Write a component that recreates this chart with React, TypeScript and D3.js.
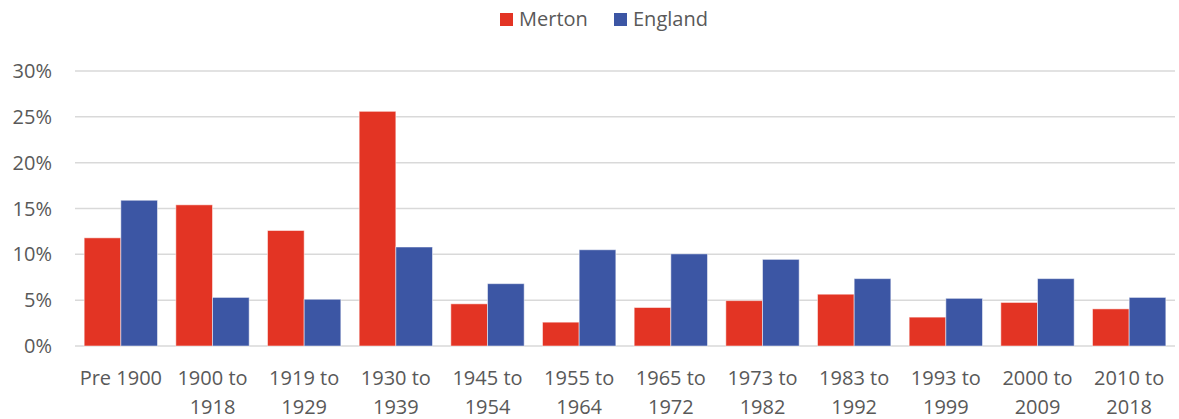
import React from "react";
import * as d3 from "d3";

const categories: string[][] = [
  ["Pre 1900"], ["1900 to", "1918"], ["1919 to", "1929"], ["1930 to", "1939"],
  ["1945 to", "1954"], ["1955 to", "1964"], ["1965 to", "1972"], ["1973 to", "1982"],
  ["1983 to", "1992"], ["1993 to", "1999"], ["2000 to", "2009"], ["2010 to", "2018"],
];
const merton = [11.8, 15.4, 12.6, 25.6, 4.6, 2.6, 4.2, 4.95, 5.65, 3.15, 4.75, 4.05];
const england = [15.9, 5.3, 5.1, 10.8, 6.8, 10.5, 10.05, 9.45, 7.35, 5.2, 7.35, 5.3];
const yTicks = [0, 5, 10, 15, 20, 25, 30];
const seriesNames = ["Merton", "England"];
const colors = ["#E33424", "#3C56A4"];

export default function App() {
  const W = 1179, H = 419;
  const left = 75, right = 1175, top = 71, bottom = 346;
  const x = d3.scaleBand<number>().domain(categories.map((_, i) => i)).range([left, right]).paddingInner(0.2).paddingOuter(0.1);
  const x1 = d3.scaleBand<number>().domain([0, 1]).range([0, x.bandwidth()]);
  const y = d3.scaleLinear().domain([0, 30]).range([bottom, top]);
  const series = [merton, england];
  const font = "'Open Sans', 'Noto Sans', sans-serif";
  const fs = 20;
  const legendX = [500, 614];
  return (
    <svg width={W} height={H} style={{ position: "absolute", left: 0, top: 0 }} fontFamily={font}>
      <rect width={W} height={H} fill="#fff" />
      {yTicks.map((t) => (
        <g key={t}>
          <line x1={left} x2={right} y1={y(t)} y2={y(t)} stroke="#D9D9D9" strokeWidth={1.5} />
          <text x={52} y={y(t)} dy="0.35em" textAnchor="end" fontSize={fs} fill="#595959">{t}%</text>
        </g>
      ))}
      {series.map((vals, s) =>
        vals.map((v, i) => (
          <rect key={`${s}-${i}`} x={(x(i) as number) + (x1(s) as number)} y={y(v)} width={x1.bandwidth()} height={bottom - y(v)}
            fill={colors[s]} stroke="#fff" strokeOpacity={0.5} strokeWidth={1} />
        ))
      )}
      {categories.map((lines, i) => (
        <text key={i} x={(x(i) as number) + x.bandwidth() / 2} y={385} textAnchor="middle" fontSize={fs} fill="#595959">
          {lines.map((l, k) => (
            <tspan key={k} x={(x(i) as number) + x.bandwidth() / 2} dy={k === 0 ? 0 : 29}>{l}</tspan>
          ))}
        </text>
      ))}
      {seriesNames.map((n, s) => {
        const lx = legendX[s];
        return (
          <g key={n}>
            <rect x={lx} y={13} width={13} height={13} fill={colors[s]} />
            <text x={lx + 19} y={19} dy="0.35em" fontSize={fs} fill="#595959">{n}</text>
          </g>
        );
      })}
    </svg>
  );
}
